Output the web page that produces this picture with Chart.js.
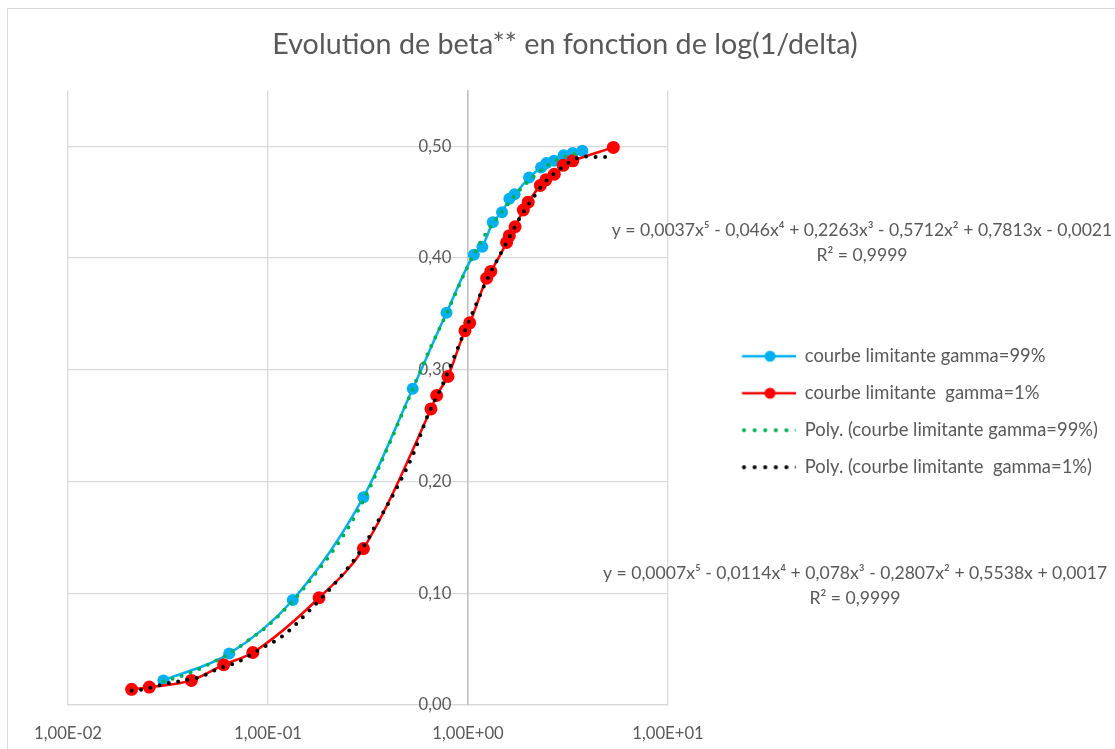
<!DOCTYPE html>
<html><head><meta charset="utf-8">
<script src="https://cdn.jsdelivr.net/npm/chart.js@4.4.1/dist/chart.umd.min.js"></script>
<style>
html,body{margin:0;padding:0;background:#fff;}
#wrap{position:relative;width:1115px;height:749px;overflow:hidden;}
#frame{position:absolute;left:7px;top:8px;width:1200px;height:800px;border-left:1px solid #d9d9d9;border-top:1px solid #d9d9d9;pointer-events:none;}
canvas{position:absolute;left:0;top:0;}
</style></head><body>
<div id="wrap"><canvas id="c" width="1115" height="749"></canvas><div id="frame"></div></div>
<script>
// ---- data ----
const titleText = 'Evolution de beta** en fonction de log(1/delta)';
const seriesNames = ['courbe limitante gamma=99%', 'courbe limitante  gamma=1%',
  'Poly. (courbe limitante gamma=99%)', 'Poly. (courbe limitante  gamma=1%)'];

const blueX = [0.030, 0.064, 0.133, 0.300, 0.529, 0.781, 1.07, 1.18, 1.33, 1.48, 1.61, 1.71, 2.02, 2.32, 2.47, 2.69, 3.01, 3.34, 3.73];
const blueY = [0.022, 0.046, 0.094, 0.186, 0.283, 0.351, 0.403, 0.410, 0.432, 0.441, 0.453, 0.457, 0.472, 0.481, 0.485, 0.487, 0.492, 0.494, 0.496];

const redX = [0.0208, 0.0255, 0.0414, 0.060, 0.084, 0.180, 0.300, 0.653, 0.697, 0.794, 0.966, 1.02, 1.24, 1.30, 1.56, 1.61, 1.72, 1.89, 2.00, 2.30, 2.45, 2.70, 2.99, 3.34, 5.33];
const redY = [0.014, 0.016, 0.022, 0.036, 0.047, 0.096, 0.140, 0.265, 0.277, 0.294, 0.335, 0.342, 0.382, 0.388, 0.414, 0.420, 0.428, 0.443, 0.450, 0.465, 0.470, 0.475, 0.483, 0.487, 0.499];

const greenTrendX = [0.030, 0.040, 0.050, 0.064, 0.080, 0.100, 0.133, 0.170, 0.229, 0.300, 0.400, 0.530, 0.650, 0.780, 1.00, 1.20, 1.50, 1.86, 2.20, 2.41, 2.80, 3.20, 3.73];
const greenTrendY = [0.021, 0.028, 0.036, 0.046, 0.058, 0.071, 0.093, 0.116, 0.147, 0.183, 0.232, 0.283, 0.320, 0.350, 0.393, 0.419, 0.443, 0.463, 0.475, 0.481, 0.488, 0.492, 0.495];

const blackTrendX = [0.0208, 0.0238, 0.0298, 0.037, 0.0462, 0.057, 0.071, 0.0946, 0.117, 0.165, 0.227, 0.300, 0.342, 0.430, 0.534, 0.630, 0.737, 1.00, 1.24, 1.55, 1.83, 2.10, 2.40, 2.90, 3.46, 3.97, 4.40, 4.97, 5.33];
const blackTrendY = [0.013, 0.014, 0.0185, 0.0217, 0.0253, 0.0328, 0.0387, 0.0516, 0.061, 0.0865, 0.1133, 0.1416, 0.1595, 0.1908, 0.2251, 0.2594, 0.2847, 0.3414, 0.380, 0.413, 0.437, 0.453, 0.467, 0.480, 0.489, 0.491, 0.4905, 0.4905, 0.494];

const xTickValues = [0.01, 0.1, 1, 10];
const yTickValues = [0, 0.1, 0.2, 0.3, 0.4, 0.5];

const eqBlue = ['y = 0,0037x\u2075 - 0,046x\u2074 + 0,2263x\u00B3 - 0,5712x\u00B2 + 0,7813x - 0,0021', 'R\u00B2 = 0,9999'];
const eqRed = ['y = 0,0007x\u2075 - 0,0114x\u2074 + 0,078x\u00B3 - 0,2807x\u00B2 + 0,5538x + 0,0017', 'R\u00B2 = 0,9999'];

// ---- helpers ----
const pts = (xs, ys) => xs.map((x, i) => ({x: x, y: ys[i]}));
function sci(v) {
  const e = Math.round(Math.log10(v));
  const m = v / Math.pow(10, e);
  return m.toFixed(2).replace('.', ',') + 'E' + (e < 0 ? '-' : '+') + String(Math.abs(e)).padStart(2, '0');
}
const FONT = "Lato, 'Open Sans', sans-serif";
const mctx = document.createElement('canvas').getContext('2d');
function textW(text, size) { mctx.font = size + 'px ' + FONT; return mctx.measureText(text).width; }
function fitSize(text, target) { return Math.round(100 * target / textW(text, 100) * 10) / 10; }

// font sizes chosen so text widths match the reference
const titleSize = fitSize(titleText, 586);
const tickSize = fitSize('1,00E-02', 68);
const legendSize = fitSize(seriesNames[2], 294);
const eqSize = fitSize(eqBlue[0], 501);

// layout geometry (pixels)
const plotLeft = 68, plotRight = 668, plotBottom = 705, legendTextX = 805, rowStep = 37;
const legPad = rowStep - legendSize;
const sampleW = Math.round(legendTextX - plotRight - legPad - legendSize / 2);
const legendW = Math.ceil(legPad + sampleW + legendSize / 2 + textW(seriesNames[2], legendSize) + 4);
const padRight = Math.max(0, 1115 - plotRight - legendW);
const padLeft = padRight + 15;           // centres the title at ~565
const leftGap = plotLeft - padLeft;
const xAxisH = 749 - plotBottom;
const yLabelGap = '\u2002\u2002';         // gap between y labels and the axis line at x = 1

function sample(kind, color) {
  const c = document.createElement('canvas');
  c.width = sampleW; c.height = 14;
  const g = c.getContext('2d');
  const origin = plotRight + legPad;
  g.fillStyle = color; g.strokeStyle = color;
  if (kind === 'line') {
    g.lineWidth = 2.5;
    g.beginPath(); g.moveTo(742 - origin, 7); g.lineTo(799 - origin, 7); g.stroke();
    g.beginPath(); g.arc(770 - origin, 7, 5.5, 0, Math.PI * 2); g.fill();
  } else {
    for (let i = 0; i < 6; i++) {
      g.beginPath(); g.arc(744 - origin + i * 10.6, 7, 2.1, 0, Math.PI * 2); g.fill();
    }
  }
  return c;
}

const BLUE = '#00B0F0', RED = '#FF0000', GREEN = '#00B050', BLACK = '#000000', TXT = '#595959';
Chart.defaults.font.family = FONT;
Chart.defaults.color = TXT;

const samples = [sample('line', BLUE), sample('line', RED), sample('dots', GREEN), sample('dots', BLACK)];
const sampleColors = [BLUE, RED, GREEN, BLACK];

const equationPlugin = {
  id: 'equations',
  afterDraw(chart) {
    const ctx = chart.ctx;
    ctx.save();
    ctx.fillStyle = TXT;
    ctx.font = eqSize + 'px ' + FONT;
    ctx.textAlign = 'center';
    ctx.textBaseline = 'middle';
    ctx.fillText(eqBlue[0], 862, 230);
    ctx.fillText(eqBlue[1], 862, 255);
    ctx.fillText(eqRed[0], 855, 573);
    ctx.fillText(eqRed[1], 855, 598);
    ctx.restore();
  }
};

new Chart(document.getElementById('c'), {
  type: 'scatter',
  data: {
    datasets: [
      {label: seriesNames[0], data: pts(blueX, blueY), xAxisID: 'x', yAxisID: 'y', showLine: true, borderColor: BLUE, backgroundColor: BLUE,
       borderWidth: 2.5, pointRadius: 6, pointBorderWidth: 0, cubicInterpolationMode: 'monotone', order: 4},
      {label: seriesNames[1], data: pts(redX, redY), xAxisID: 'x', yAxisID: 'y', showLine: true, borderColor: RED, backgroundColor: RED,
       borderWidth: 2.5, pointRadius: 6.5, pointBorderWidth: 0, cubicInterpolationMode: 'monotone', order: 3},
      {label: seriesNames[2], data: pts(greenTrendX, greenTrendY), xAxisID: 'x', yAxisID: 'y', showLine: true, borderColor: GREEN, backgroundColor: GREEN,
       borderWidth: 4, borderDash: [0, 9.5], borderCapStyle: 'round', pointRadius: 0, cubicInterpolationMode: 'monotone', order: 2},
      {label: seriesNames[3], data: pts(blackTrendX, blackTrendY), xAxisID: 'x', yAxisID: 'y', showLine: true, borderColor: BLACK, backgroundColor: BLACK,
       borderWidth: 4, borderDash: [0, 9.5], borderCapStyle: 'round', pointRadius: 0, cubicInterpolationMode: 'monotone', order: 1}
    ]
  },
  options: {
    responsive: false,
    animation: false,
    devicePixelRatio: 1,
    layout: {padding: {left: padLeft, right: padRight, top: 0, bottom: 0}},
    scales: {
      x: {
        type: 'logarithmic', min: 0.01, max: 10, position: 'bottom',
        afterBuildTicks: (s) => { s.ticks = xTickValues.map(v => ({value: v})); },
        afterFit: (s) => { s.height = xAxisH; },
        grid: {color: '#d9d9d9', lineWidth: 1.3, drawTicks: false},
        border: {display: true, color: '#d9d9d9', width: 1.3},
        ticks: {padding: 19, color: TXT, font: {size: tickSize}, autoSkip: false, maxRotation: 0,
                callback: (v) => sci(v)}
      },
      y: {
        type: 'linear', min: 0, max: 0.55, position: {x: 1},
        afterBuildTicks: (s) => { s.ticks = yTickValues.map(v => ({value: v})); },
        grid: {color: '#d9d9d9', lineWidth: 1.3, drawTicks: false},
        border: {display: true, color: '#bfbfbf', width: 1.5},
        ticks: {padding: 0, color: TXT, font: {size: tickSize},
                callback: (v) => Number(v).toFixed(2).replace('.', ',') + yLabelGap}
      },
      gutter: {
        type: 'linear', position: 'left', display: true,
        grid: {display: false}, border: {display: false}, ticks: {display: false},
        afterFit: (s) => { s.width = leftGap; }
      }
    },
    plugins: {
      tooltip: {enabled: false},
      title: {display: true, text: titleText, color: TXT, font: {size: titleSize, weight: 'normal'}, padding: {top: 28, bottom: 28}},
      legend: {
        display: true, position: 'right', align: 'center', fullSize: false, maxWidth: legendW,
        title: {display: true, text: ' ', font: {size: 10}, padding: {top: 8, bottom: 8}},
        labels: {
          usePointStyle: true, pointStyleWidth: sampleW, padding: legPad, color: TXT, font: {size: legendSize},
          generateLabels: () => seriesNames.map((name, i) => ({
            text: name, pointStyle: samples[i], fillStyle: sampleColors[i], strokeStyle: sampleColors[i],
            lineWidth: 0, hidden: false, datasetIndex: i, fontColor: TXT
          }))
        }
      }
    }
  },
  plugins: [equationPlugin]
});
</script>
</body></html>
